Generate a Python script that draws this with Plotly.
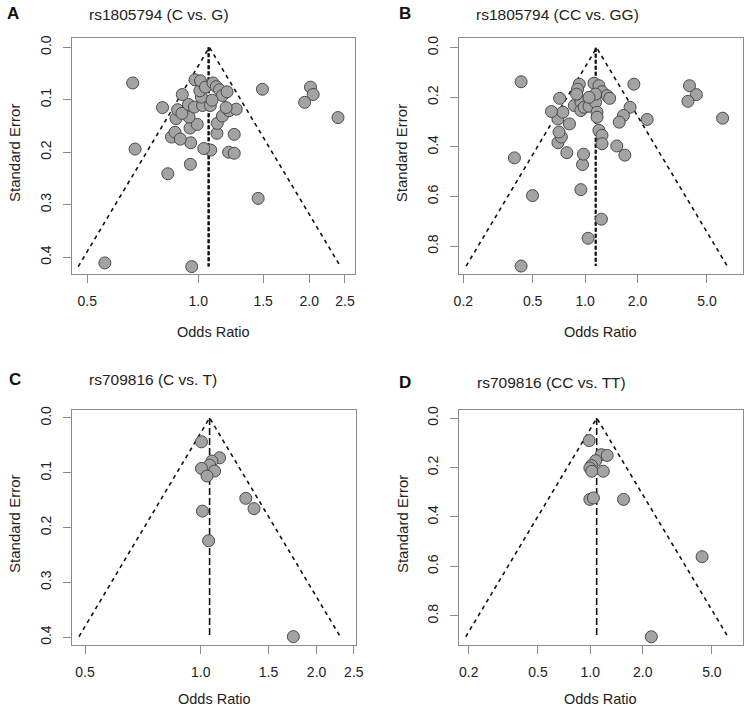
import numpy as np
import plotly.graph_objects as go

W, H = 755, 714

# ---------------- data ----------------
# Panel A: rs1805794 (C vs. G)
A_or = [0.664, 0.674, 0.558, 0.960, 0.827, 0.952, 0.800, 1.493, 2.016, 2.050,
        1.944, 2.394, 1.454, 1.252, 1.209, 1.252, 1.081, 1.035, 0.954, 1.124,
        1.126, 1.163, 1.212, 1.268, 1.190, 0.846, 0.865, 0.894, 0.950, 0.994,
        0.944, 0.870, 0.879, 0.903, 0.941, 0.976, 1.027, 1.079, 0.905, 1.020,
        1.010, 0.980, 1.014, 1.046, 1.096, 1.119, 1.142, 1.163, 1.197, 1.090]
A_se = [0.068, 0.194, 0.411, 0.418, 0.241, 0.223, 0.115, 0.080, 0.076, 0.090,
        0.105, 0.134, 0.288, 0.166, 0.200, 0.202, 0.196, 0.193, 0.182, 0.164,
        0.145, 0.131, 0.121, 0.118, 0.115, 0.171, 0.162, 0.175, 0.154, 0.147,
        0.133, 0.136, 0.119, 0.126, 0.109, 0.114, 0.111, 0.111, 0.090, 0.095,
        0.083, 0.062, 0.064, 0.076, 0.068, 0.075, 0.081, 0.092, 0.085, 0.101]
A_center = 1.072
A_ref = [1.064, 1.070]

# Panel B: rs1805794 (CC vs. GG)
B_or = [0.429, 0.393, 0.499, 0.429, 1.904, 3.97, 4.35, 3.89, 6.15, 2.27,
        1.81, 1.66, 1.57, 1.52, 1.69, 1.24, 1.04, 0.945, 0.966, 0.979,
        1.20, 1.25, 1.25, 0.785, 0.698, 0.730, 0.708, 0.698, 0.813, 0.745,
        0.641, 0.714, 0.867, 0.945, 0.945, 0.987, 1.053, 1.148, 1.17, 1.17,
        0.925, 0.905, 0.894, 1.124, 1.20, 1.25, 1.336, 1.383, 1.148, 1.053]
B_se = [0.137, 0.444, 0.596, 0.880, 0.147, 0.153, 0.189, 0.216, 0.284, 0.289,
        0.240, 0.273, 0.300, 0.396, 0.433, 0.691, 0.768, 0.572, 0.471, 0.429,
        0.333, 0.353, 0.387, 0.423, 0.383, 0.360, 0.340, 0.287, 0.307, 0.260,
        0.257, 0.204, 0.233, 0.220, 0.253, 0.240, 0.236, 0.220, 0.260, 0.280,
        0.147, 0.167, 0.187, 0.143, 0.153, 0.177, 0.193, 0.204, 0.187, 0.200]
B_center = 1.165
B_ref = [1.145, 1.155]

# Panel C: rs709816 (C vs. T)
C_or = [1.004, 1.119, 1.069, 1.054, 1.004, 1.086, 1.038, 1.309, 1.375, 1.010, 1.048, 1.740]
C_se = [0.0436, 0.0727, 0.0788, 0.0861, 0.0921, 0.097, 0.106, 0.1467, 0.1655, 0.170, 0.224, 0.399]
C_center = 1.054
C_ref = [1.054]

# Panel D: rs709816 (CC vs. TT)
D_or = [0.985, 1.156, 1.250, 1.074, 1.015, 0.994, 1.020, 1.187, 0.994, 1.042, 1.552, 4.39, 2.243]
D_se = [0.091, 0.148, 0.151, 0.172, 0.192, 0.202, 0.215, 0.215, 0.329, 0.323, 0.329, 0.561, 0.885]
D_center = 1.09
D_ref = [1.088]

titles = ["rs1805794 (C vs. G)", "rs1805794 (CC vs. GG)",
          "rs709816 (C vs. T)", "rs709816 (CC vs. TT)"]
letters = ["A", "B", "C", "D"]
x_ticks_small = [0.5, 1.0, 1.5, 2.0, 2.5]
x_ticks_wide = [0.2, 0.5, 1.0, 2.0, 5.0]
y_ticks_small = [0.0, 0.1, 0.2, 0.3, 0.4]
y_ticks_wide = [0.0, 0.2, 0.4, 0.6, 0.8]

# ---------------- layout geometry (pixels) ----------------
panels = [
    dict(or_=A_or, se=A_se, center=A_center, ref=A_ref, box=(68, 356, 34, 272),
         xr=(0.454, 2.66), yr=(0.433, -0.018), xt=x_ticks_small, yt=y_ticks_small,
         refdash="4px,2px"),
    dict(or_=B_or, se=B_se, center=B_center, ref=B_ref, box=(462, 751, 34, 272),
         xr=(0.189, 8.06), yr=(0.914, -0.04), xt=x_ticks_wide, yt=y_ticks_wide,
         refdash="4px,2px"),
    dict(or_=C_or, se=C_se, center=C_center, ref=C_ref, box=(68, 357, 408, 645),
         xr=(0.462, 2.53), yr=(0.415, -0.015), xt=x_ticks_small, yt=y_ticks_small,
         refdash="7px,3px"),
    dict(or_=D_or, se=D_se, center=D_center, ref=D_ref, box=(462, 751, 408, 645),
         xr=(0.176, 7.55), yr=(0.92, -0.034), xt=x_ticks_wide, yt=y_ticks_wide,
         refdash="7px,3px"),
]
letter_pos = [(8, 10), (407, 10), (10, 378), (407, 381)]
title_pos = [(83, 11), (477, 11), (83, 378), (478, 381)]
ytitle_pos = [(9, 150), (403, 150), (9, 523), (404, 523)]
xtitle_pos = [(212, 330), (606, 330), (213, 699), (606, 699)]

FONT = "Liberation Sans, Arial, sans-serif"
fig = go.Figure()
annotations = []

def px(x):
    return x / W

def py(y):
    return 1 - y / H

for i, p in enumerate(panels):
    k = "" if i == 0 else str(i + 1)
    xa, ya = "x" + k, "y" + k
    maxse = max(p["se"])
    c = p["center"]
    # funnel
    fx = [c * np.exp(-1.96 * maxse), c, c * np.exp(1.96 * maxse)]
    fy = [maxse, 0, maxse]
    fig.add_trace(go.Scatter(x=fx, y=fy, mode="lines", xaxis=xa, yaxis=ya,
                             line=dict(color="#111", width=1.6, dash="4px,4px"),
                             showlegend=False, hoverinfo="skip"))
    for r in p["ref"]:
        fig.add_trace(go.Scatter(x=[r, r], y=[0, maxse], mode="lines", xaxis=xa, yaxis=ya,
                                 line=dict(color="#111", width=1.6, dash=p["refdash"]),
                                 showlegend=False, hoverinfo="skip"))
    fig.add_trace(go.Scatter(x=p["or_"], y=p["se"], mode="markers", xaxis=xa, yaxis=ya,
                             marker=dict(size=12, color="#a3a3a3",
                                         line=dict(color="#4a4a4a", width=1)),
                             showlegend=False))
    x0, x1, y0, y1 = p["box"]
    axis_common = dict(showline=True, mirror=True, linecolor="#8a8a8a", linewidth=1,
                       ticks="outside", ticklen=8, tickcolor="#8a8a8a", tickwidth=1,
                       showgrid=False, zeroline=False,
                       tickfont=dict(family=FONT, size=14, color="#222"))
    fig.update_layout(**{
        "xaxis" + k: dict(domain=[px(x0), px(x1)], anchor=ya, type="log",
                          range=[np.log10(p["xr"][0]), np.log10(p["xr"][1])],
                          tickvals=p["xt"], ticktext=[f"{v:.1f}" for v in p["xt"]],
                          ticklabelstandoff=6, **axis_common),
        "yaxis" + k: dict(domain=[py(y1), py(y0)], anchor=xa,
                          range=list(p["yr"]), tickvals=p["yt"],
                          ticktext=[f"{v:.1f}" for v in p["yt"]], tickangle=-90,
                          ticklabelstandoff=6, **axis_common),
    })
    lx, ly = letter_pos[i]
    annotations.append(dict(text="<b>" + letters[i] + "</b>", x=px(lx), y=py(ly),
                            xref="paper", yref="paper", showarrow=False,
                            xanchor="center", yanchor="middle",
                            font=dict(family=FONT, size=17, color="#111")))
    tx, ty = title_pos[i]
    annotations.append(dict(text=titles[i], x=px(tx), y=py(ty), xref="paper", yref="paper",
                            showarrow=False, xanchor="left", yanchor="middle",
                            font=dict(family=FONT, size=15.5, color="#222")))
    yx, yy = ytitle_pos[i]
    annotations.append(dict(text="Standard Error", x=px(yx), y=py(yy), xref="paper",
                            yref="paper", showarrow=False, textangle=-90,
                            xanchor="center", yanchor="middle",
                            font=dict(family=FONT, size=15, color="#222")))
    xx, xy = xtitle_pos[i]
    annotations.append(dict(text="Odds Ratio", x=px(xx), y=py(xy), xref="paper",
                            yref="paper", showarrow=False,
                            xanchor="center", yanchor="middle",
                            font=dict(family=FONT, size=14.5, color="#222")))

fig.update_layout(width=W, height=H, margin=dict(l=0, r=0, t=0, b=0),
                  paper_bgcolor="white", plot_bgcolor="white",
                  annotations=annotations, showlegend=False)

fig.write_html("out.html")
